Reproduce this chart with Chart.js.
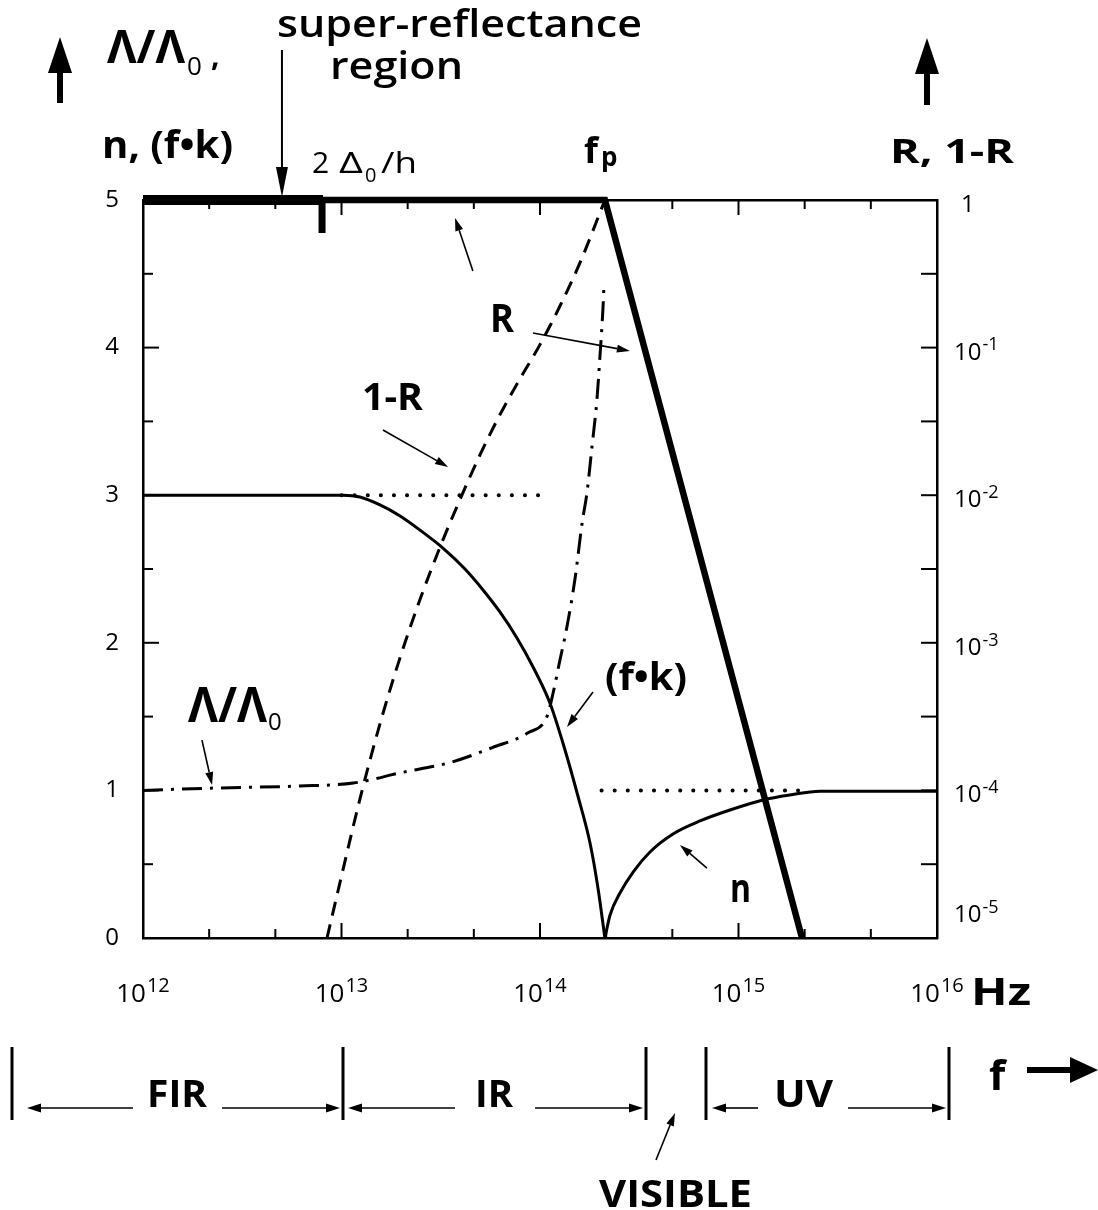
<!DOCTYPE html>
<html>
<head>
<meta charset="utf-8">
<script src="https://cdn.jsdelivr.net/npm/chart.js@4.4.1/dist/chart.umd.min.js"></script>
<style>
  html, body { margin: 0; padding: 0; background: #fff; }
  #wrap { width: 1098px; height: 1210px; }
</style>
</head>
<body>
<div id="wrap"><canvas id="chart" width="1098" height="1210"></canvas></div>
<script>
// x values are log10(f / Hz); left axis is n, Λ/Λ0, (f·k); right axis is log10 of R, 1-R
const freqDecades = [12, 13, 14, 15, 16];
const rightExps = [0, -1, -2, -3, -4, -5];

// refractive index n, below and above the plasma frequency
const nLowLogF = [12.0, 13.008, 13.093, 13.194, 13.295, 13.395, 13.511, 13.622, 13.713, 13.798, 13.884, 13.965, 14.05, 14.126, 14.191, 14.252, 14.292, 14.327];
const nLowVal  = [3.0, 3.0, 2.988, 2.934, 2.859, 2.764, 2.642, 2.5, 2.358, 2.209, 2.033, 1.836, 1.592, 1.274, 0.962, 0.644, 0.339, 0];
const nHighLogF = [14.327, 14.353, 14.403, 14.469, 14.554, 14.67, 14.806, 14.957, 15.123, 15.259, 15.411, 16.0];
const nHighVal  = [0, 0.156, 0.305, 0.447, 0.583, 0.705, 0.793, 0.867, 0.935, 0.969, 0.995, 0.995];

// asymptotic levels of n (dotted)
const nLimitHighLogF = [13.0, 14.0];
const nLimitHighVal  = [3, 3];
const nLimitLowLogF  = [14.31, 15.3];
const nLimitLowVal   = [1, 1];

// penetration depth ratio Λ/Λ0 running into (f·k)
const lamLogF = [12.0, 12.34, 12.79, 13.06, 13.3, 13.55, 13.76, 13.94, 14.035, 14.066, 14.10, 14.136, 14.176, 14.212, 14.237, 14.262, 14.287, 14.302, 14.317, 14.322];
const lamVal  = [1.0, 1.015, 1.03, 1.05, 1.12, 1.19, 1.29, 1.39, 1.5, 1.66, 1.88, 2.11, 2.43, 2.81, 3.02, 3.33, 3.65, 3.94, 4.26, 4.41];

// absorption 1-R, log10
const absLogF = [12.927, 13.0, 13.1, 13.2, 13.3, 13.4, 13.5, 13.6, 13.7, 13.8, 13.9, 14.0, 14.1, 14.2, 14.327];
const absExp  = [-5, -4.58, -4.02, -3.52, -3.08, -2.69, -2.34, -2.02, -1.72, -1.45, -1.21, -0.98, -0.72, -0.43, 0];

// reflectance R, log10
const reflLogF = [12.0, 14.327, 15.32];
const reflExp  = [0, 0, -5];
const superLogF = [12.0, 12.907];
const superExp  = [0, 0];
// gap edge 2Δ0/h marker
const gapLogF = [12.902, 12.902];
const gapExp  = [0, -0.224];

const FONT = '"Open Sans", "Noto Sans", sans-serif';

function pts(xs, ys) {
  return xs.map((x, i) => ({ x: x, y: ys[i] }));
}

function line(data, opts) {
  return Object.assign({
    data: data,
    borderColor: '#000',
    backgroundColor: '#000',
    borderWidth: 3,
    pointRadius: 0,
    fill: false,
    clip: false,
    tension: 0
  }, opts);
}

function txt(ctx, str, x, y, font, width) {
  ctx.font = font;
  const w = ctx.measureText(str).width;
  ctx.save();
  ctx.translate(x, y);
  if (width) ctx.scale(width / w, 1);
  ctx.fillText(str, 0, 0);
  ctx.restore();
}

function arrow(ctx, x1, y1, x2, y2, lw, hl, hw) {
  const a = Math.atan2(y2 - y1, x2 - x1);
  const bx = x2 - hl * Math.cos(a), by = y2 - hl * Math.sin(a);
  ctx.lineWidth = lw;
  ctx.beginPath();
  ctx.moveTo(x1, y1);
  ctx.lineTo(bx, by);
  ctx.stroke();
  ctx.beginPath();
  ctx.moveTo(x2, y2);
  ctx.lineTo(bx + hw * Math.sin(a), by - hw * Math.cos(a));
  ctx.lineTo(bx - hw * Math.sin(a), by + hw * Math.cos(a));
  ctx.closePath();
  ctx.fill();
}

// "10" with a raised exponent
function power(ctx, exp, x, y, size, expSize, align) {
  ctx.font = size + 'px ' + FONT;
  const w1 = ctx.measureText('10').width;
  ctx.font = expSize + 'px ' + FONT;
  const w2 = ctx.measureText(exp).width;
  const x0 = align === 'center' ? x - (w1 + w2 + 1) / 2 : x;
  ctx.font = size + 'px ' + FONT;
  ctx.fillText('10', x0, y);
  ctx.font = expSize + 'px ' + FONT;
  ctx.fillText(exp, x0 + w1 + 1, y - size * 0.38);
}

const tickMarks = {
  id: 'tickMarks',
  beforeDatasetsDraw(chart) {
    const { ctx, chartArea: a } = chart;
    const { x, y, y2 } = chart.scales;
    ctx.save();
    ctx.strokeStyle = '#000';
    ctx.lineWidth = 2;
    const seg = (x1, y1, x2, y2_) => {
      ctx.beginPath(); ctx.moveTo(x1, y1); ctx.lineTo(x2, y2_); ctx.stroke();
    };
    // thirds of a decade along the frequency axis, bottom and top
    for (let i = 1; i < 12; i++) {
      const px = x.getPixelForValue(x.min + i / 3);
      const len = i % 3 === 0 ? 15 : 9;
      seg(px, a.bottom, px, a.bottom - len);
      seg(px, a.top, px, a.top + len);
    }
    for (let v = 0.5; v < y.max; v += 0.5) {
      const py = y.getPixelForValue(v);
      seg(a.left, py, a.left + (v % 1 === 0 ? 16 : 10), py);
    }
    for (let v = y2.min + 0.5; v < y2.max; v += 0.5) {
      const py = y2.getPixelForValue(v);
      seg(a.right, py, a.right - 16, py);
    }
    ctx.restore();
  }
};

const annotations = {
  id: 'annotations',
  afterDatasetsDraw(chart) {
    const { ctx, chartArea: a } = chart;
    const { x, y, y2 } = chart.scales;
    const X = v => x.getPixelForValue(v);
    const Y = v => y.getPixelForValue(v);
    ctx.save();
    ctx.fillStyle = '#000';
    ctx.strokeStyle = '#000';
    ctx.textAlign = 'left';
    ctx.textBaseline = 'alphabetic';

    // frequency tick labels
    freqDecades.forEach(d => power(ctx, String(d), X(d), a.bottom + 64, 26, 20, 'center'));
    txt(ctx, 'Hz', 971, a.bottom + 67, 'bold 38px ' + FONT, 60);

    // reflectance tick labels
    rightExps.forEach(e => {
      const py = Math.min(y2.getPixelForValue(e) + 12, a.bottom - 16);
      if (e === 0) {
        ctx.font = '24px ' + FONT;
        ctx.fillText('1', 961, py);
      } else {
        power(ctx, '-' + (-e), 954, py, 24, 18, 'left');
      }
    });

    // axis titles
    arrow(ctx, 60, 103, 60, 37, 6, 36, 12);
    arrow(ctx, 927, 105, 927, 38, 6, 36, 12);
    txt(ctx, 'Λ/Λ', 107, 63, 'bold 46px ' + FONT, 78);
    txt(ctx, '0', 187, 75, '26px ' + FONT);
    txt(ctx, ',', 211, 66, 'bold 30px ' + FONT);
    txt(ctx, 'n, (f•k)', 102, 158, 'bold 37px ' + FONT, 131);
    txt(ctx, 'R, 1-R', 890, 163, 'bold 34px ' + FONT, 124);

    // plasma frequency and gap edge
    txt(ctx, 'f', 584, 163, 'bold 36px ' + FONT);
    txt(ctx, 'p', 601, 166, 'bold 26px ' + FONT);
    txt(ctx, '2', 312, 173, '30px ' + FONT);
    txt(ctx, 'Δ', 339, 173, '30px ' + FONT, 24);
    txt(ctx, '0', 365, 182, '20px ' + FONT);
    txt(ctx, '/h', 381, 173, '30px ' + FONT, 36);

    // super-reflectance region
    txt(ctx, 'super-reflectance', 277, 37, '600 38px ' + FONT, 365);
    txt(ctx, 'region', 330, 79, '600 38px ' + FONT, 133);
    arrow(ctx, X(12.70), 50, X(12.70), a.top - 3, 2, 30, 6);

    // curve labels and pointers
    txt(ctx, 'R', X(13.748), Y(4.106), 'bold 40px ' + FONT, 24);
    txt(ctx, '1-R', X(13.103), Y(3.577), 'bold 38px ' + FONT, 61);
    txt(ctx, 'Λ/Λ', X(12.227), Y(1.463), 'bold 49px ' + FONT, 79);
    txt(ctx, '0', X(12.227) + 80, Y(1.463) + 8, '24px ' + FONT);
    txt(ctx, '(f•k)', X(14.327), Y(1.68), 'bold 38px ' + FONT, 82);
    txt(ctx, 'n', X(14.957), Y(0.244), 'bold 40px ' + FONT, 21);

    const pointers = [
      [13.662, 4.519, 13.572, 4.878],
      [13.965, 4.099, 14.453, 3.977],
      [13.209, 3.442, 13.537, 3.191],
      [12.297, 1.341, 12.348, 1.037],
      [14.267, 1.667, 14.136, 1.43],
      [14.841, 0.474, 14.705, 0.63]
    ];
    pointers.forEach(p => arrow(ctx, X(p[0]), Y(p[1]), X(p[2]), Y(p[3]), 1.6, 13, 4));

    // spectral bands
    ctx.lineWidth = 3;
    [12, 343, 646, 706, 949].forEach(bx => {
      ctx.beginPath(); ctx.moveTo(bx, 1047); ctx.lineTo(bx, 1120); ctx.stroke();
    });
    const by = 1108;
    [[133, 27], [222, 340], [455, 348], [535, 643], [758, 712], [848, 946]]
      .forEach(s => arrow(ctx, s[0], by, s[1], by, 1.6, 14, 4.5));
    txt(ctx, 'FIR', 147, 1107, 'bold 37px ' + FONT, 60);
    txt(ctx, 'IR', 475, 1107, 'bold 37px ' + FONT, 38);
    txt(ctx, 'UV', 774, 1107, 'bold 37px ' + FONT, 59);
    txt(ctx, 'VISIBLE', 599, 1207, 'bold 37px ' + FONT, 153);
    arrow(ctx, 656, 1160, 675, 1113, 1.6, 13, 4);
    txt(ctx, 'f', 989, 1090, 'bold 42px ' + FONT);
    arrow(ctx, 1027, 1070, 1098, 1070, 6, 28, 13);

    ctx.restore();
  }
};

const ctx = document.getElementById('chart');

new Chart(ctx, {
  type: 'line',
  data: {
    datasets: [
      line(pts(nLowLogF, nLowVal), { label: 'n', borderWidth: 3, cubicInterpolationMode: 'monotone' }),
      line(pts(nHighLogF, nHighVal), { label: 'n', borderWidth: 3, cubicInterpolationMode: 'monotone' }),
      line(pts(nLimitHighLogF, nLimitHighVal), { label: 'n limit', borderWidth: 4, borderDash: [0.1, 13], borderCapStyle: 'round' }),
      line(pts(nLimitLowLogF, nLimitLowVal), { label: 'n limit', borderWidth: 4, borderDash: [0.1, 13], borderCapStyle: 'round' }),
      line(pts(lamLogF, lamVal), { label: 'Λ/Λ0, (f·k)', borderWidth: 3, borderDash: [20, 8, 3, 8], cubicInterpolationMode: 'monotone' }),
      line(pts(absLogF, absExp), { label: '1-R', yAxisID: 'y2', borderWidth: 3, borderDash: [14, 9], cubicInterpolationMode: 'monotone' }),
      line(pts(reflLogF, reflExp), { label: 'R', yAxisID: 'y2', borderWidth: 6.5, borderJoinStyle: 'miter' }),
      line(pts(superLogF, superExp), { label: 'super-reflectance', yAxisID: 'y2', borderWidth: 10 }),
      line(pts(gapLogF, gapExp), { label: '2Δ0/h', yAxisID: 'y2', borderWidth: 7 })
    ]
  },
  options: {
    responsive: false,
    animation: false,
    events: [],
    layout: { padding: 0 },
    plugins: {
      legend: { display: false },
      tooltip: { enabled: false }
    },
    scales: {
      x: {
        type: 'linear', position: 'bottom',
        min: freqDecades[0], max: freqDecades[freqDecades.length - 1],
        ticks: { display: false },
        grid: { display: false, drawTicks: false },
        border: { display: true, color: '#000', width: 2.5 },
        afterFit: s => { s.height = 1210 - 938; }
      },
      xTop: {
        type: 'linear', position: 'top',
        min: freqDecades[0], max: freqDecades[freqDecades.length - 1],
        ticks: { display: false },
        grid: { display: false, drawTicks: false },
        border: { display: true, color: '#000', width: 2.5 },
        afterFit: s => { s.height = 200; }
      },
      y: {
        type: 'linear', position: 'left',
        min: 0, max: 5,
        ticks: { stepSize: 1, padding: 24, color: '#000', font: { family: FONT, size: 24 } },
        grid: { display: false, drawTicks: false },
        border: { display: true, color: '#000', width: 2.5 },
        afterFit: s => { s.width = 143; }
      },
      y2: {
        type: 'linear', position: 'right',
        min: rightExps[rightExps.length - 1], max: rightExps[0],
        ticks: { display: false },
        grid: { display: false, drawTicks: false },
        border: { display: true, color: '#000', width: 2.5 },
        afterFit: s => { s.width = 1098 - 937; }
      }
    }
  },
  plugins: [tickMarks, annotations]
});
</script>
</body>
</html>
